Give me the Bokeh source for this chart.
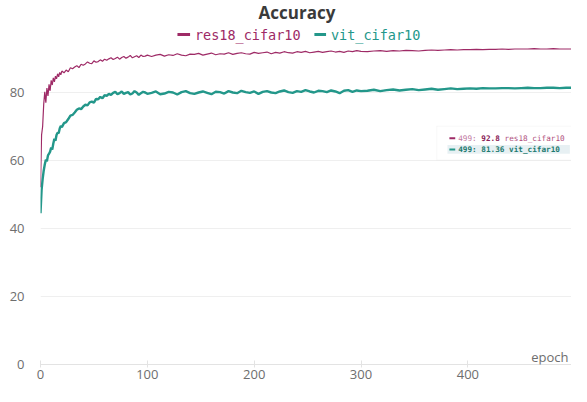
from bokeh.plotting import figure
from bokeh.models import Range1d, FixedTicker, Label, BoxAnnotation
from bokeh.embed import file_html
from bokeh.resources import INLINE

# ---------------- data ----------------
epochs = [0, 1, 2, 3, 4, 5, 6, 7, 8, 9, 10, 11, 12, 13, 14, 15, 16, 17, 18, 19, 20,
          22, 24, 26, 28, 30, 32, 34, 36, 38, 40, 42, 44, 46, 48, 50, 52, 54, 56, 58, 60,
          62, 64, 66, 68, 70, 72, 74, 76, 78, 80, 82, 84, 86, 88, 90, 92, 94, 96, 98, 100,
          104, 108, 112, 116, 120, 124, 128, 132, 136, 140, 144, 148, 152, 156, 160, 164,
          168, 172, 176, 180, 184, 188, 192, 196, 200, 204, 208, 212, 216, 220, 224, 228,
          232, 236, 240, 244, 248, 252, 256, 260, 264, 268, 272, 276, 280, 284, 288, 292,
          296, 300,
          306, 312, 318, 324, 330, 336, 342, 348, 354, 360, 366, 372, 378, 384, 390, 396,
          402, 408, 414, 420, 426, 432, 438, 444, 450, 456, 462, 468, 474, 480, 486, 492,
          498, 499]

res18_cifar10 = [52.1, 67.5, 70.0, 76.5, 80.2, 77.0, 81.3, 79.0, 82.4, 80.5,
                 83.6, 82.2, 84.3, 83.1, 84.8, 84.0, 85.5, 84.6, 85.9, 85.2, 86.3,
                 85.8, 86.6, 86.1, 87.3, 87.0, 87.5, 87.9, 87.3, 88.3, 88.0,
                 88.4, 89.0, 88.6, 88.5, 89.3, 88.9, 89.1, 89.6, 89.2, 89.8,
                 89.5, 89.9, 90.2, 89.7, 90.0, 90.4, 89.8, 90.3, 90.6, 90.1,
                 90.4, 90.9, 90.2, 90.5, 90.8, 90.3, 91.0, 90.6, 90.7, 91.0,
                 90.6, 91.0, 91.2, 90.7, 91.1, 90.9, 91.4, 91.0, 90.8, 91.3,
                 91.2, 91.5, 91.0, 91.3, 91.6, 91.1, 91.4, 91.3, 91.7, 91.2,
                 91.5, 91.7, 91.4, 91.3, 91.8, 91.5, 91.7, 91.9, 91.4, 91.8,
                 91.6, 92.0, 91.7, 91.6, 92.0, 91.8, 92.1, 91.7, 91.9, 92.1,
                 91.8, 92.0, 92.2, 91.9, 92.1, 91.8, 92.2, 92.0, 92.3, 92.1,
                 92.0, 92.2, 92.3, 92.1, 92.3, 92.2, 92.4, 92.3, 92.2, 92.4,
                 92.5, 92.4, 92.5, 92.6, 92.5, 92.6, 92.6, 92.7, 92.6, 92.7,
                 92.7, 92.8, 92.7, 92.8, 92.8, 92.8, 92.9, 92.8, 92.8, 92.9,
                 92.8, 92.8, 92.8, 92.8]

vit_cifar10 = [44.5, 51.3, 54.5, 57.0, 58.8, 60.2, 59.8, 61.5, 62.0, 62.6,
               63.8, 63.2, 65.0, 66.4, 65.8, 67.5, 68.2, 68.0, 69.4, 70.2, 69.8,
               71.0, 71.3, 72.2, 73.2, 73.4, 74.1, 74.9, 75.3, 75.1, 75.9,
               76.4, 76.2, 77.1, 77.3, 77.0, 78.1, 78.0, 78.7, 78.3, 79.2,
               79.0, 79.6, 79.3, 79.9, 80.2, 79.5, 79.8, 80.3, 79.6, 79.9,
               80.1, 79.4, 79.7, 80.4, 80.0, 79.3, 79.8, 80.2, 80.0, 79.6,
               79.9, 80.3, 79.5, 79.7, 80.2, 80.0, 79.4, 80.1, 80.4, 79.8,
               79.6, 80.0, 80.3, 79.9, 79.5, 80.2, 80.1, 79.7, 80.4, 80.0,
               79.8, 80.5, 80.1, 79.9, 80.3, 79.6, 80.2, 80.4, 80.0, 79.8,
               80.3, 80.6, 80.1, 79.9, 80.4, 80.2, 80.7, 80.3, 80.0, 80.5,
               80.4, 80.1, 80.6, 80.3, 79.8, 80.5, 80.7, 80.2, 80.6, 80.4,
               80.5, 80.8, 80.4, 80.7, 80.9, 80.6, 80.8, 81.0, 80.7, 80.9,
               81.1, 80.8, 81.0, 81.2, 81.0, 81.1, 81.2, 81.1, 81.3, 81.2,
               81.2, 81.3, 81.3, 81.2, 81.3, 81.4, 81.3, 81.3, 81.4, 81.4,
               81.3, 81.4, 81.4, 81.36]

x_ticks = [0, 100, 200, 300, 400]
y_ticks = [0, 20, 40, 60, 80]
series_names = ["res18_cifar10", "vit_cifar10"]
last_epoch = 499
last_values = ["92.8", "81.36"]

# ---------------- styling / layout ----------------
RES_C = "#9e2a66"
VIT_C = "#23978a"
W, H = 571, 386
FL, FB = 40, 22
FW, FH = W - FL, H - FB
X_END = 497
Y_END = FH / ((364 - 92) / 80)
SX, SY = FW / X_END, FH / Y_END


def ex(ax):  # reference-picture x px -> epoch (reference scale)
    return (ax - 40) / 1.1


def rv(ay):  # reference-picture y px -> value (reference scale)
    return (373 - ay) / 3.51


def iv(iy):  # own-canvas y px -> value
    return (FH - iy) / SY


p = figure(width=W, height=H, x_range=Range1d(0, X_END), y_range=Range1d(0, Y_END),
           output_backend="svg", toolbar_location=None,
           min_border_left=FL, min_border_right=0, min_border_top=0, min_border_bottom=FB)
p.outline_line_color = None
p.background_fill_color = "white"
p.border_fill_color = "white"

p.xgrid.visible = False
p.ygrid.grid_line_color = "#efefef"
p.ygrid.grid_line_width = 1

p.xaxis.ticker = FixedTicker(ticks=x_ticks)
p.yaxis.ticker = FixedTicker(ticks=y_ticks)
for ax in (p.xaxis[0], p.yaxis[0]):
    ax.major_label_text_font = "Open Sans"
    ax.major_label_text_font_size = "13px"
    ax.major_label_text_color = "#6e6e6e"
    ax.minor_tick_line_color = None
p.xaxis.axis_line_color = "#e3e3e3"
p.xaxis.major_tick_line_color = "#e3e3e3"
p.xaxis.major_tick_in = 4
p.xaxis.major_tick_out = 3
p.xaxis.major_label_standoff = 2
p.yaxis.axis_line_color = None
p.yaxis.major_tick_line_color = None
p.yaxis.major_label_standoff = 10

p.line(epochs, res18_cifar10, line_color=RES_C, line_width=1.2)
p.line(epochs, vit_cifar10, line_color=VIT_C, line_width=2.4)

# title
p.add_layout(Label(x=ex(304), y=iv(12), text="Accuracy", text_font="Open Sans",
                   text_font_style="bold", text_font_size="17px", text_color="#3a3a3a",
                   text_align="center", text_baseline="middle"))

# legend on top
LEG_Y = 34
HT = 1.5 / SY
p.add_layout(BoxAnnotation(left=ex(181), right=ex(194), top=iv(LEG_Y) + HT, bottom=iv(LEG_Y) - HT,
                           fill_color=RES_C, fill_alpha=1, line_color=None))
p.add_layout(Label(x=ex(199), y=iv(LEG_Y), text=series_names[0], text_font="DejaVu Sans Mono",
                   text_font_size="13.5px", text_color=RES_C, text_align="left",
                   text_baseline="middle"))
p.add_layout(BoxAnnotation(left=ex(322), right=ex(334), top=iv(LEG_Y) + HT, bottom=iv(LEG_Y) - HT,
                           fill_color=VIT_C, fill_alpha=1, line_color=None))
p.add_layout(Label(x=ex(339), y=iv(LEG_Y), text=series_names[1], text_font="DejaVu Sans Mono",
                   text_font_size="13.5px", text_color=VIT_C, text_align="left",
                   text_baseline="middle"))

# axis name "epoch"
p.add_layout(Label(x=X_END - 3 / SX, y=rv(365), text="epoch", text_font="Open Sans",
                   text_font_size="13px", text_color="#6e6e6e", text_align="right",
                   text_baseline="middle"))

# hover-style readout box
p.add_layout(BoxAnnotation(left=ex(448), right=X_END, top=rv(127), bottom=rv(162),
                           fill_color="white", fill_alpha=1, line_color="#e8e8e8", line_width=1))
p.add_layout(BoxAnnotation(left=ex(459), right=ex(585), top=rv(146.5), bottom=rv(155.5),
                           fill_color="#e7f0f3", fill_alpha=1, line_color=None))
FS = 7.7
CW = 0.602 * FS / SX
R1, R2 = 139.5, 151
TX = ex(470)
HD = 1.0 / SY
p.add_layout(BoxAnnotation(left=ex(461), right=ex(467), top=rv(R1) + HD, bottom=rv(R1) - HD,
                           fill_color=RES_C, fill_alpha=1, line_color=None))
p.add_layout(BoxAnnotation(left=ex(461), right=ex(467), top=rv(R2) + HD, bottom=rv(R2) - HD,
                           fill_color=VIT_C, fill_alpha=1, line_color=None))
common = dict(text_font="DejaVu Sans Mono", text_font_size=f"{FS}px",
              text_align="left", text_baseline="middle")
p.add_layout(Label(x=TX, y=rv(R1), text=f"{last_epoch}:", text_color="#c27a9f", **common))
p.add_layout(Label(x=TX + 5 * CW, y=rv(R1), text=last_values[0], text_color="#8a2257",
                   text_font_style="bold", **common))
p.add_layout(Label(x=TX + 10 * CW, y=rv(R1), text=series_names[0], text_color="#b0507d", **common))
p.add_layout(Label(x=TX, y=rv(R2), text=f"{last_epoch}: {last_values[1]} {series_names[1]}",
                   text_color="#1d7a70", text_font_style="bold", **common))

open("out.html", "w").write(file_html(p, INLINE))
